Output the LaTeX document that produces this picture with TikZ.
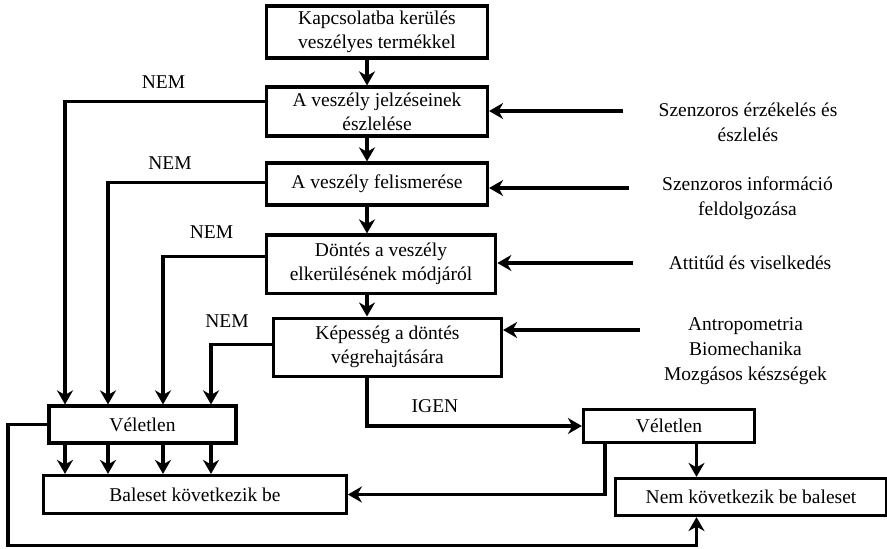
\documentclass[tikz,border=0pt]{standalone}
\usepackage{fontspec}
\setmainfont{Liberation Serif}
\usetikzlibrary{arrows.meta,positioning}

\begin{document}
\begin{tikzpicture}[x=1pt,y=-1pt,>={Stealth[length=14pt,width=16pt,inset=4.5pt]},
  line width=3.2pt,
  box/.style={draw,line width=3.2pt,align=center,inner sep=0pt,
  font=\fontsize{19.5}{24}\selectfont},
  lbl/.style={align=center,inner sep=0pt,font=\fontsize{19.5}{25}\selectfont}]
\useasboundingbox (0,0) rectangle (887,549);
% main column
\node[box,minimum width=221pt,minimum height=52pt] (start) at (377,32) {Kapcsolatba kerülés\\veszélyes termékkel};
\node[box,minimum width=221pt,minimum height=49pt,below=25.8pt of start] (sig) {A veszély jelzéseinek\\észlelése};
\node[box,minimum width=221pt,minimum height=42pt,below=23.8pt of sig] (rec) {A veszély felismerése};
\node[box,minimum width=229.5pt,minimum height=58.5pt,below=26.8pt of rec,xshift=4pt] (dec) {Döntés a veszély\\elkerülésének módjáról};
\node[box,minimum width=228pt,minimum height=58pt,below=21.4pt of dec,xshift=6.5pt] (abil) {Képesség a döntés\\végrehajtására};
% outcomes
\node[box,minimum width=187pt,minimum height=37pt] (chL) at (142.5,424.5) {Véletlen};
\node[box,minimum width=302.5pt,minimum height=38pt] (acc) at (195,494.5) {Baleset következik be};
\node[box,minimum width=171pt,minimum height=32.5pt] (chR) at (669,426) {Véletlen};
\node[box,minimum width=271pt,minimum height=37pt] (noacc) at (751,497) {Nem következik be baleset};
% factors
\node[lbl] (f1) at (748,122.5) {Szenzoros érzékelés és\\észlelés};
\node[lbl] (f2) at (747.5,198.5) {Szenzoros információ\\feldolgozása};
\node[lbl] (f3) at (750,262.5) {Attitűd és viselkedés};
\node[lbl] (f4) at (745.5,351.5) {Antropometria\\Biomechanika\\Mozgásos készségek};
% labels
\node[lbl] (nem1) at (163.5,82) {NEM};
\node[lbl] (nem2) at (170,163.5) {NEM};
\node[lbl] (nem3) at (211.5,232) {NEM};
\node[lbl] (nem4) at (227,321.5) {NEM};
\node[lbl] (igen) at (435,406) {IGEN};
% helper points
\coordinate (col) at (367,0);
\coordinate (d1) at (65,0);
\coordinate (d2) at (108,0);
\coordinate (d3) at (163,0);
\coordinate (d4) at (211,0);
\coordinate (d5) at (696.5,0);
\coordinate (d6) at (605,0);
\coordinate (lp) at (8,545.5);
\coordinate (s1) at (623,111);
\coordinate (s2) at (629,188);
\coordinate (s3) at (633,263);
\coordinate (s4) at (640,330);
% connectors
\foreach \a/\b in {start/sig,sig/rec,rec/dec,dec/abil} \draw[->] (col |- \a.south)--(col |- \b.north);
\foreach \s/\b in {s1/sig,s2/rec,s3/dec,s4/abil} \draw[->] (\s)--(\s -| \b.east);
\draw[->] ([yshift=10pt]sig.west) -| (d1 |- chL.north);
\draw[->] ([yshift=1.5pt]rec.west) -| (d2 |- chL.north);
\draw[->] ([yshift=7.5pt]dec.west) -| (d3 |- chL.north);
\draw[->] ([yshift=3pt]abil.west) -| (d4 |- chL.north);
\foreach \c in {d1,d2,d3,d4} \draw[->] (\c |- chL.south)--(\c |- acc.north);
\draw[->] (col |- abil.south) |- (chR.west);
\draw[->] (d6 |- chR.south) |- (acc.east);
\draw[->] (d5 |- chR.south)--(d5 |- noacc.north);
\draw[->] (chL.west) -| (lp) -| (d5 |- noacc.south);
\end{tikzpicture}
\end{document}
